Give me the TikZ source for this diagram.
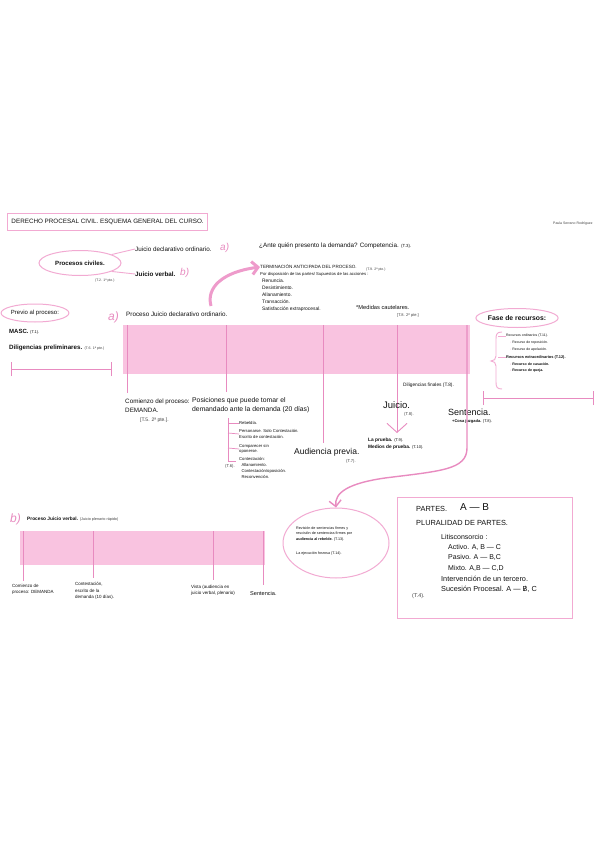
\documentclass[tikz,border=0pt]{standalone}
\usepackage{fontspec}
\setmainfont{Liberation Sans}
\usetikzlibrary{arrows.meta,shapes.geometric}
\definecolor{bandpink}{HTML}{F9C3E0}
\definecolor{linepink}{HTML}{E88BC0}
\definecolor{outpink}{HTML}{F2AAD2}
\definecolor{arrowpink}{HTML}{EE9BCB}
\definecolor{ink}{HTML}{111111}
\definecolor{grayink}{HTML}{444444}
\tikzset{
  txt/.style={anchor=west, inner sep=0pt, text=ink, font=\fontsize{6.3}{7}\selectfont, align=left},
  small/.style={txt, font=\fontsize{4.8}{6}\selectfont},
  tiny/.style={txt, text=grayink, font=\fontsize{3.5}{5}\selectfont},
  big/.style={txt, font=\fontsize{8.5}{10}\selectfont},
  boxtxt/.style={txt, font=\fontsize{7.4}{9}\selectfont},
  pinklet/.style={anchor=west, inner sep=0pt, text=linepink, font=\fontsize{10}{11}\selectfont\itshape},
  band/.style={fill=bandpink, draw=none, inner sep=0pt, anchor=north west},
  vline/.style={draw=linepink, line width=0.9pt},
  oval/.style={ellipse, draw=outpink, line width=1pt, inner sep=0pt},
}
\begin{document}
\begin{tikzpicture}[x=1pt,y=-1pt]
\useasboundingbox (0,0) rectangle (599,848);
\fill[white] (0,0) rectangle (599,848);

% title
\node[draw=outpink, line width=1pt, anchor=west, inner xsep=4pt, minimum height=17pt, font=\fontsize{6.3}{7}\selectfont, text=ink] (title) at (7,222) {DERECHO PROCESAL CIVIL. ESQUEMA GENERAL DEL CURSO.};
\node[tiny] (author) at (553,224) {Paula Serrano Rodríguez};

% procesos civiles
\node[oval, minimum width=82pt, minimum height=25pt, font=\fontsize{6.1}{7}\selectfont\bfseries, text=ink] (pc) at (80,263) {Procesos civiles.};
\node[txt] (jdo) at (135,249) {Juicio declarativo ordinario.};
\node[pinklet] (la) at (220,248) {a)};
\node[txt, font=\fontsize{6.3}{7}\selectfont\bfseries] (jv) at (135,274) {Juicio verbal.};
\node[pinklet] (lb) at (180,273) {b)};
\node[tiny] (t2) at (95,281) {(T.2. 1ª pte.)};
\draw[draw=outpink, line width=0.9pt] (pc.15) -- (jdo.west);
\draw[draw=outpink, line width=0.9pt] (pc.-15) -- (jv.west);

% competencia
\node[txt] (comp) at (259,246) {¿Ante quién presento la demanda? Competencia. {\fontsize{4.4}{5}\selectfont (T.3).}};

% terminacion
\node[tiny, text=ink, font=\fontsize{4.6}{5}\selectfont] (term) at (260,267) {TERMINACIÓN ANTICIPADA DEL PROCESO.};
\node[tiny, text=ink, font=\fontsize{4.2}{5}\selectfont] (disp) at (260,274) {Por disposición de las partes/ Supuestos de las acciones :};
\node[tiny] (t9) at (366,270) {(T.9. 2ª pte.)};
\node[tiny, text=ink, font=\fontsize{4.9}{7}\selectfont] (list) at (262,295.5) {Renuncia.\\Desistimiento.\\Allanamiento.\\Transacción.\\Satisfacción extraprocesal.};
\node[small, font=\fontsize{5.7}{6}\selectfont] (medc) at (356,307) {*Medidas cautelares.};
\node[tiny, font=\fontsize{4}{5}\selectfont] (t8a) at (397,315) {[T.8. 2ª pte.]};

% big curved arrow
\coordinate (arrS) at (211,306);
\draw[arrowpink, line width=3pt, -{Straight Barb[length=6pt, width=13pt]}] (arrS) .. controls (206,288) and (222,272) .. (term.west);

% previo al proceso
\node[oval, minimum width=64pt, minimum height=18pt, font=\fontsize{6}{7}\selectfont, text=ink] (prev) at (35,313) {Previo al proceso:};
\node[txt, font=\fontsize{6}{7}\selectfont\bfseries] (masc) at (9,332) {MASC. {\mdseries\fontsize{4}{4}\selectfont (T.1).}};
\node[txt, font=\fontsize{6.2}{7}\selectfont\bfseries] (dilig) at (9,348) {Diligencias preliminares. {\mdseries\fontsize{3.6}{4}\selectfont\color{grayink} (T.6. 1ª pte.)}};
\coordinate (s1a) at (11,369); \coordinate (s1b) at (111,369);
\draw[vline] (s1a) -- (s1b);
\draw[vline] ([yshift=-7pt]s1a) -- ([yshift=7pt]s1a);
\draw[vline] ([yshift=-7pt]s1b) -- ([yshift=7pt]s1b);

% a) process
\node[pinklet, font=\fontsize{12}{12}\selectfont\itshape] (pa) at (108,317) {a)};
\node[txt] (pja) at (126,314) {Proceso Juicio declarativo ordinario.};
\node[band, minimum width=347pt, minimum height=49pt] (bandA) at (123,325) {};

\coordinate (v1t) at (127,325); \coordinate (v1b) at (127,393);
\coordinate (v2t) at (226,325); \coordinate (v2b) at (226,392);
\coordinate (v3t) at (323,325); \coordinate (v3b) at (323,443);
\coordinate (v4t) at (397,325); \coordinate (v4b) at (397,433);
\coordinate (v5t) at (467,325); \coordinate (v5b) at (467,448);
\draw[vline] (v1t) -- (v1b);
\draw[vline] (v2t) -- (v2b);
\draw[vline] (v3t) -- (v3b);
\draw[vline, -{Straight Barb[length=9pt, width=20pt, line width=0.9pt]}] (v4t) -- (v4b);

% comienzo
\node[txt] (comi) at (125,402) {Comienzo del proceso:};
\node[txt] (dem) at (125,410) {DEMANDA.};
\node[tiny, font=\fontsize{5}{5}\selectfont] (t5) at (140,420) {[T.5. 2ª pte.].};

% posiciones
\node[txt, font=\fontsize{6.8}{9}\selectfont] (pos) at (192,405.5) {Posiciones que puede tomar el\\demandado ante la demanda (20 días)};
\coordinate (sbt) at (228,418); \coordinate (sbb) at (228,461);
\draw[vline, line width=0.7pt] (sbt) -- (sbb);
\node[tiny, text=ink, font=\fontsize{4.2}{5.5}\selectfont] (o1) at (239,423) {Rebeldía.};
\node[tiny, text=ink, font=\fontsize{4.2}{5.5}\selectfont] (o2) at (239,434) {Personarse. Solo Contestación.\\Escrito de contestación.};
\node[tiny, text=ink, font=\fontsize{4.2}{5.5}\selectfont] (o3) at (239,449) {Comparecer sin\\oponerse.};
\node[tiny, text=ink, font=\fontsize{4.2}{5.8}\selectfont] (o4) at (239,468) {Contestación:\\\ \ Allanamiento.\\\ \ Contestación/oposición.\\\ \ Reconvención.};
\node[tiny, font=\fontsize{4.2}{5}\selectfont] (t6) at (225,466) {(T.6).};
\draw[vline, line width=0.7pt] (228,423) -- (o1.west);
\draw[vline, line width=0.7pt] (228,433) -- (o2.west);
\draw[vline, line width=0.7pt] (228,448) -- (o3.west);
\draw[vline, line width=0.7pt] (228,461) -- (236,461);

% audiencia previa
\node[big] (aud) at (294,452) {Audiencia previa.};
\node[tiny, font=\fontsize{4.2}{5}\selectfont] (t7) at (346,461) {(T.7).};

% juicio
\node[tiny, text=ink, font=\fontsize{4.8}{5}\selectfont] (dfin) at (403,385) {Diligencias finales (T.8).};
\node[big, font=\fontsize{9.5}{10}\selectfont] (juic) at (383,405) {Juicio.};
\node[tiny, font=\fontsize{4.2}{5}\selectfont] (t8b) at (404,414) {(T.8).};
\node[small] (prue) at (368,440) {\bfseries La prueba. {\mdseries\fontsize{4}{4}\selectfont (T.9).}};
\node[small] (med) at (368,447) {\bfseries Medios de prueba. {\mdseries\fontsize{4}{4}\selectfont (T.10).}};

% sentencia
\node[big, font=\fontsize{9}{10}\selectfont] (sent) at (448,412) {Sentencia.};
\node[tiny, text=ink, font=\fontsize{4}{5}\selectfont] (cosa) at (452,421) {\textbf{+Cosa juzgada.} (T.8).};

% recursos
\node[oval, minimum width=76pt, minimum height=19pt, font=\fontsize{6.8}{7}\selectfont\bfseries, text=ink] (rec) at (517,318) {Fase de recursos:};
\draw[outpink, line width=0.9pt] (502,332) .. controls (496,332) and (496,335) .. (496,340) -- (496,356) .. controls (496,359) and (494,361) .. (491,361) .. controls (494,361) and (496,363) .. (496,366) -- (496,382) .. controls (496,387) and (497,389) .. (502,389);
\node[tiny, text=ink] (r1) at (506,336) {Recursos ordinarios (T.11).};
\node[tiny, text=ink] (r1a) at (510,343) {{\color{linepink}-} Recurso de reposición.};
\node[tiny, text=ink] (r1b) at (510,350) {{\color{linepink}-} Recurso de apelación.};
\node[tiny, text=ink, font=\fontsize{3.9}{5}\selectfont\bfseries] (r2) at (506,357) {Recursos extraordinarios (T.12).};
\node[tiny, text=ink, font=\fontsize{3.6}{5}\selectfont\bfseries] (r2a) at (510,364) {{\color{linepink}-} Recurso de casación.};
\node[tiny, text=ink, font=\fontsize{3.6}{5}\selectfont\bfseries] (r2b) at (510,371) {{\color{linepink}-} Recurso de queja.};
\draw[outpink, line width=0.8pt] (498,336) -- (r1.west);
\draw[outpink, line width=0.8pt] (498,357) -- (r2.west);
\coordinate (s2a) at (483,398); \coordinate (s2b) at (593,398);
\draw[vline] (s2a) -- (s2b);
\draw[vline] ([yshift=-7pt]s2a) -- ([yshift=7pt]s2a);
\draw[vline] ([yshift=-7pt]s2b) -- ([yshift=7pt]s2b);

% circle bottom
\node[oval, minimum width=106pt, minimum height=70pt] (circ) at (336,543) {};
\node[tiny, text=ink, font=\fontsize{3.7}{5.5}\selectfont] (rev) at (296,534) {Revisión de sentencias firmes y\\rescisión de sentencias firmes por\\\textbf{audiencia al rebelde.} (T.13).};
\node[tiny, text=ink, font=\fontsize{3.7}{5}\selectfont] (ejec) at (296,554) {La ejecución forzosa (T.14).};

% arrow Sentencia -> circle
\draw[vline, line width=1.4pt, -{Straight Barb[length=6pt, width=12pt]}] (v5t) -- (v5b) .. controls (467,470) and (440,471) .. (385,478) .. controls (350,483) and (334,492) .. (circ.north);

% b) juicio verbal
\node[pinklet, font=\fontsize{12}{12}\selectfont\itshape] (pb) at (10,519) {b)};
\node[txt, font=\fontsize{4.8}{6}\selectfont\bfseries] (pjv) at (27,519) {Proceso Juicio verbal. {\mdseries\fontsize{3.8}{4}\selectfont\color{grayink} (Juicio plenario rápido)}};
\node[band, minimum width=245pt, minimum height=34pt] (bandB) at (20,531) {};
\coordinate (w1t) at (23,531); \coordinate (w1b) at (23,581);
\coordinate (w2t) at (93,531); \coordinate (w2b) at (93,578);
\coordinate (w3t) at (213,531); \coordinate (w3b) at (213,580);
\coordinate (w4t) at (263,531); \coordinate (w4b) at (263,585);
\draw[vline] (w1t) -- (w1b);
\draw[vline] (w2t) -- (w2b);
\draw[vline] (w3t) -- (w3b);
\draw[vline] (w4t) -- (w4b);
\node[tiny, text=ink, font=\fontsize{4.5}{6}\selectfont] (bv1) at (12,589) {Comienzo de\\proceso: DEMANDA};
\node[tiny, text=ink, font=\fontsize{4.5}{6.5}\selectfont] (bv2) at (75,591) {Contestación,\\escrito de la\\demanda (10 días).};
\node[tiny, text=ink, font=\fontsize{4.5}{6}\selectfont] (bv3) at (191,590) {Vista (audiencia en\\juicio verbal, plenario)};
\node[tiny, text=ink, font=\fontsize{5.6}{6}\selectfont] (bv4) at (250,593) {Sentencia.};

% partes box
\node[draw=outpink, line width=1.2pt, minimum width=175pt, minimum height=121pt, anchor=north west, inner sep=0pt] (box) at (397,497) {};
\node[boxtxt] (partes) at (416,509) {PARTES.};
\node[txt, font=\fontsize{10}{11}\selectfont] (ab) at (460,507) {A — B};
\node[boxtxt] (plur) at (416,523) {PLURALIDAD DE PARTES.};
\node[boxtxt, font=\fontsize{7}{8}\selectfont] (litis) at (441,537) {Litisconsorcio :};
\node[boxtxt, font=\fontsize{7}{8}\selectfont] (act) at (448,547) {Activo. A, B — C};
\node[boxtxt, font=\fontsize{7}{8}\selectfont] (pas) at (448,557.5) {Pasivo. A — B,C};
\node[boxtxt, font=\fontsize{7}{8}\selectfont] (mix) at (448,568) {Mixto. A,B — C,D};
\node[boxtxt, font=\fontsize{7.3}{8}\selectfont] (inter) at (441,578.5) {Intervención de un tercero.};
\node[boxtxt, font=\fontsize{7.3}{8}\selectfont] (suc) at (441,589) {Sucesión Procesal. A — {\ooalign{B\cr\hidewidth/\hidewidth}}, C};
\node[txt, text=grayink, font=\fontsize{5.5}{6}\selectfont] (t4) at (412,596) {(T.4).};
\end{tikzpicture}
\end{document}
